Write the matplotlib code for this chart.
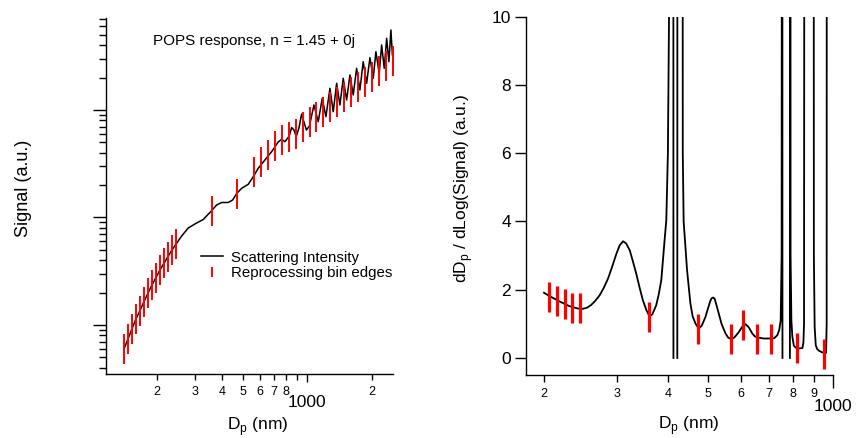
import numpy as np
import matplotlib
matplotlib.use("Agg")
import matplotlib.pyplot as plt
from matplotlib.ticker import LogLocator, FuncFormatter, NullFormatter, MultipleLocator
from matplotlib.lines import Line2D

plt.rcParams["font.family"] = ["Liberation Sans", "DejaVu Sans"]
plt.rcParams["mathtext.fontset"] = "custom"
plt.rcParams["mathtext.rm"] = "Liberation Sans"

# Left panel: scattering signal vs diameter
signal_dp = [139.9, 146.0, 152.4, 159.1, 166.1, 173.4, 181.0, 188.9, 197.2, 205.9,
             214.9, 224.3, 234.2, 244.5, 260.0, 279.0, 305.4, 327.8, 352.2, 378.6,
             399.5, 428.9, 449.5, 469.3, 495.2, 531.6, 560.8, 591.7, 635.8, 683.4,
             733.4, 760.6, 788.0, 825.4, 847.2, 868.4, 890.0, 916.2, 943.2, 966.8,
             993.0, 1025.6, 1076.4, 1127.2, 1176.8, 1224.2, 1278.0, 1324.2, 1373.6,
             1422.8, 1474.2, 1529.2, 1584.4, 1641.6, 1702.2, 1763.6, 1827.0, 1895.6,
             1964.0, 2034.6, 2094.0, 2170.4, 2226.8, 2290.0, 2350.0, 2408.0, 2460.0,
             2500.0]
signal_val = [0.598, 0.741, 0.918, 1.137, 1.358, 1.647, 1.972, 2.356, 2.754, 3.248,
              3.750, 4.318, 4.985, 5.632, 6.73, 7.99, 8.89, 9.58, 11.13, 13.07,
              13.79, 13.79, 14.55, 16.72, 18.69, 20.36, 23.96, 28.69, 34.26, 40.94,
              50.39, 53.39, 50.71, 57.30, 68.73, 65.16, 56.69, 68.0, 91.8, 77.3,
              65.16, 71.0, 111.3, 77.8, 128.5, 86.7, 159.2, 96.4, 177.2,
              111.3, 197.2, 123.9, 211.7, 137.9, 244.3, 153.5, 281.4, 177.2,
              306.6, 197.2, 348.5, 219.5, 402.4, 244.3, 464.5, 281.4, 554.8,
              324.9]

# Reprocessing bin edges
bin_edges = [139.9, 146.0, 152.4, 159.1, 166.1, 173.4, 181.0, 188.9, 197.2, 205.9,
             214.9, 224.3, 234.2, 244.5, 359.8, 470.6, 567.0, 607.0, 656.8, 708.0,
             763.0, 820.0, 884.0, 953.0, 1027.0, 1104.0, 1190.0, 1283.0, 1378.0,
             1485.0, 1602.0, 1720.0, 1855.0, 1999.0, 2156.0, 2324.0, 2506.0]
bin_signal = [0.598, 0.741, 0.918, 1.137, 1.358, 1.647, 1.972, 2.356, 2.754, 3.248,
              3.750, 4.318, 4.985, 5.632, 11.6, 16.6, 26.5, 32.8, 38.5, 46.0,
              52.2, 56.1, 60.2, 69.9, 77.8, 86.7, 96.4, 107.3, 118.7,
              132.1, 147.1, 163.7, 182.2, 202.8, 228.1, 253.9, 285.6]

# Right panel: dDp / dLog(Signal)
deriv_dp = [200.0, 208.0, 217.9, 230.3, 241.3, 248.2, 254.0, 260.0, 266.0, 272.9,
            279.0, 285.9, 292.0, 299.6, 305.0, 310.8, 316.0, 322.5, 328.0, 334.5,
            341.0, 347.1, 354.0, 360.1, 366.0, 373.7, 379.0, 384.6, 391.7, 395.5,
            399.0, 401.5, 403.0, 411.0, 411.5, np.nan, 420.5, 421.0, 432.0, 433.5,
            435.6, 444.0, 452.4, 458.0, 465.2, 473.8, 482.0, 491.8, 498.0, 505.0,
            509.0, 513.5, 518.0, 523.0, 529.8, 538.0, 550.0, 558.0, 567.8, 578.0,
            592.4, 604.0, 615.1, 626.0, 638.4, 648.0, 658.8, 680.0, 707.5, 722.0,
            734.4, 742.0, 748.0, 752.0, 754.5, 755.5, np.nan, 787.5, 788.0, 789.0,
            790.5, 794.0, 798.4, 805.0, 813.4, 830.0, 844.4, 849.0, 852.0, 856.0,
            897.5, 900.0, 904.0, 909.6, 917.0, 926.5, 940.0, 952.8, 963.3, 966.5,
            968.0, 1000.0]
deriv_val = [1.91, 1.79, 1.66, 1.52, 1.45, 1.44, 1.47, 1.55, 1.67, 1.84,
             2.05, 2.33, 2.65, 3.06, 3.30, 3.42, 3.36, 3.16, 2.85, 2.47,
             2.05, 1.69, 1.40, 1.22, 1.28, 1.54, 1.85, 2.28, 3.45, 4.04,
             6.0, 10.0, 40.0, 40.0, 0.0, np.nan, 0.0, 40.0, 40.0, 6.0,
             4.0, 2.57, 1.59, 1.22, 1.01, 0.86, 0.95, 1.20, 1.42, 1.66,
             1.75, 1.77, 1.73, 1.55, 1.30, 1.00, 0.72, 0.60, 0.55, 0.60,
             0.76, 0.92, 0.99, 0.90, 0.72, 0.63, 0.60, 0.57, 0.57, 0.58,
             0.67, 0.82, 1.10, 3.0, 40.0, 0.0, np.nan, 0.0, 40.0, 40.0,
             3.0, 1.1, 0.62, 0.36, 0.30, 0.28, 0.29, 0.45, 1.0, 40.0,
             40.0, 3.0, 0.9, 0.37, 0.26, 0.21, 0.17, 0.15, 0.15, 1.0,
             40.0, 40.0]

right_bins = [205.9, 214.9, 224.3, 234.2, 244.5, 359.8, 470.6, 567.0, 607.0,
              656.8, 708.0, 820.0, 953.0]
right_bin_val = [1.79, 1.68, 1.57, 1.47, 1.45, 1.20, 0.86, 0.55, 0.96,
                 0.57, 0.55, 0.29, 0.13]

fig = plt.figure(figsize=(8.58, 4.38), dpi=100)
ax1 = fig.add_axes([0.1235, 0.1461, 0.3341, 0.8135])
ax2 = fig.add_axes([0.6131, 0.1438, 0.3575, 0.8180])


def style_axes(ax):
    for s in ["top", "right"]:
        ax.spines[s].set_visible(False)
    for s in ["left", "bottom"]:
        ax.spines[s].set_linewidth(1.0)
    ax.tick_params(which="both", direction="out", width=1.0, colors="black")


def minor_fmt(labels):
    def f(v, pos):
        m = v / 10 ** np.floor(np.log10(v) + 1e-9)
        d = int(round(m))
        return str(d) if d in labels else ""
    return FuncFormatter(f)


# ---- left panel
style_axes(ax1)
ax1.plot(signal_dp, signal_val, color="black", lw=1.1)
ax1.plot(bin_edges, bin_signal, ls="none", marker="|", ms=21.6, mew=1.4,
         color="red")
ax1.set_xscale("log")
ax1.set_yscale("log")
ax1.set_xlim(115.3, 2506)
ax1.set_ylim(0.35, 722)
ax1.xaxis.set_major_locator(LogLocator(base=10))
ax1.xaxis.set_minor_locator(LogLocator(base=10, subs=range(2, 10)))
ax1.xaxis.set_major_formatter(FuncFormatter(lambda v, p: "%d" % v))
ax1.xaxis.set_minor_formatter(minor_fmt({2, 3, 4, 5, 6, 7, 8}))
ax1.yaxis.set_major_locator(LogLocator(base=10))
ax1.yaxis.set_minor_locator(LogLocator(base=10, subs=range(2, 10)))
ax1.yaxis.set_major_formatter(NullFormatter())
ax1.yaxis.set_minor_formatter(NullFormatter())
ax1.tick_params(axis="x", which="major", length=6, labelsize=12.5, pad=9)
ax1.tick_params(axis="x", which="minor", length=4, labelsize=9, pad=4.5)
ax1.tick_params(axis="y", which="major", length=9.5)
ax1.tick_params(axis="y", which="minor", length=5)
ax1.set_ylabel("Signal (a.u.)", fontsize=13)
ax1.yaxis.set_label_coords(-0.258, 0.52)
ax1.set_xlabel(r"D$_\mathregular{p}$ (nm)", fontsize=12.5)
ax1.xaxis.set_label_coords(0.53, -0.114)
ax1.text(0.165, 0.935, "POPS response, n = 1.45 + 0j", transform=ax1.transAxes,
         fontsize=11, va="center", ha="left")
handles = [Line2D([], [], color="black", lw=1.1),
           Line2D([], [], ls="none", marker="|", ms=6.5, mew=1.4, color="red")]
ax1.legend(handles, ["Scattering Intensity", "Reprocessing bin edges"],
           loc="upper left", bbox_to_anchor=(0.330, 0.346), frameon=False,
           fontsize=10.8, handlelength=1.5, handletextpad=0.5,
           labelspacing=0.1, borderpad=0, borderaxespad=0)

# ---- right panel
style_axes(ax2)
ax2.plot(deriv_dp, deriv_val, color="black", lw=1.3)
ax2.plot(right_bins, right_bin_val, ls="none", marker="|", ms=21.6, mew=2.3,
         color="red")
ax2.set_xscale("log")
ax2.set_xlim(181, 1000)
ax2.set_ylim(-0.5, 10)
ax2.xaxis.set_major_locator(LogLocator(base=10))
ax2.xaxis.set_minor_locator(LogLocator(base=10, subs=range(2, 10)))
ax2.xaxis.set_major_formatter(FuncFormatter(lambda v, p: "%d" % v))
ax2.xaxis.set_minor_formatter(minor_fmt({2, 3, 4, 5, 6, 7, 8, 9}))
ax2.yaxis.set_major_locator(MultipleLocator(2))
ax2.tick_params(axis="x", which="major", length=9, labelsize=12.5, pad=8)
ax2.tick_params(axis="x", which="minor", length=5, labelsize=9, pad=4)
ax2.tick_params(axis="y", which="major", length=8, labelsize=12.5, pad=3)
ax2.set_ylabel(r"dD$_\mathregular{p}$ / dLog(Signal) (a.u.)", fontsize=12.5)
ax2.yaxis.set_label_coords(-0.166, 0.52)
ax2.set_xlabel(r"D$_\mathregular{p}$ (nm)", fontsize=12.5)
ax2.xaxis.set_label_coords(0.53, -0.108)

fig.savefig("out.png", dpi=100)
